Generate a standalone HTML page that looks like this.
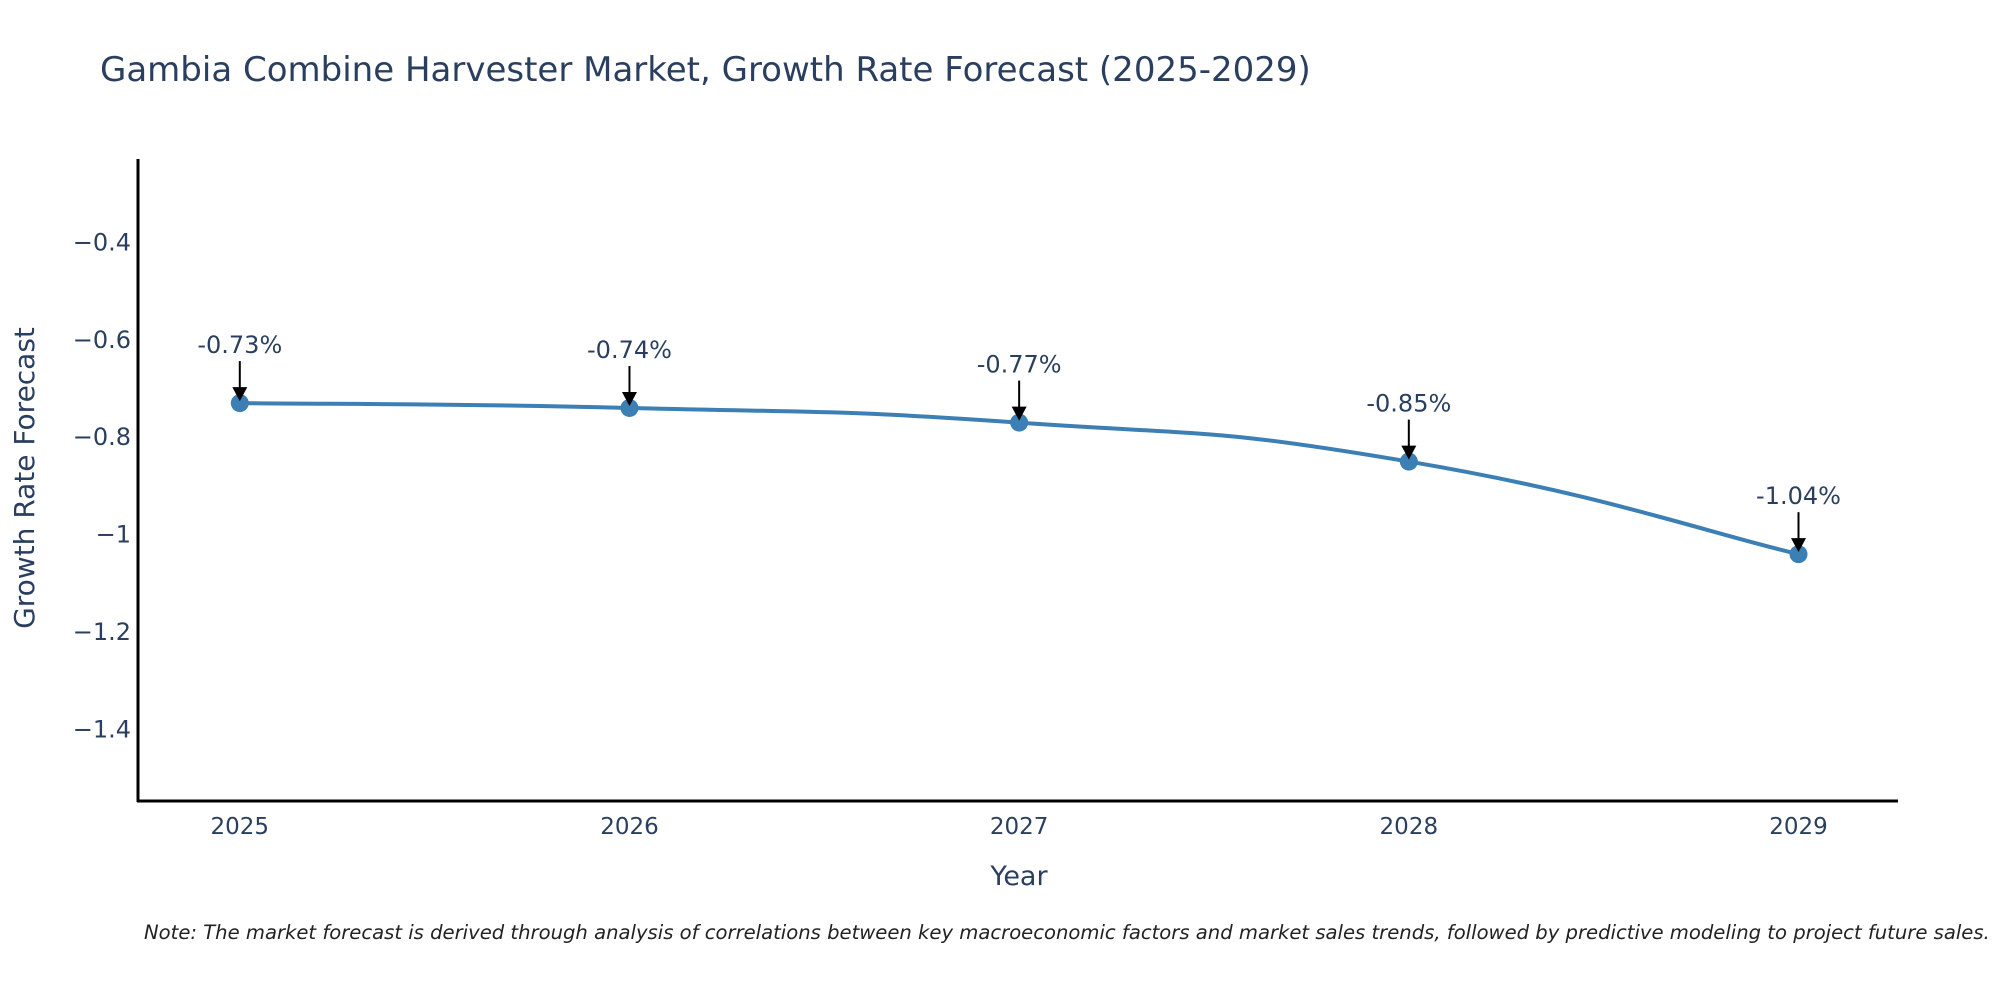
<!DOCTYPE html>
<html><head><meta charset="utf-8"><style>
body{margin:0;background:#fff}
svg text{font-family:"DejaVu Sans","Liberation Sans",sans-serif}
</style></head><body>
<svg id="chart" width="2000" height="1000" xmlns="http://www.w3.org/2000/svg">
<text x="100" y="81" font-size="34" fill="#2a3f5f">Gambia Combine Harvester Market, Growth Rate Forecast (2025-2029)</text>
<g id="yticks"></g>
<g id="xticks"></g>
<line x1="138" y1="159" x2="138" y2="802" stroke="#000" stroke-width="3"/>
<line x1="137" y1="801" x2="1898" y2="801" stroke="#000" stroke-width="3"/>
<text transform="translate(34,478) rotate(-90)" text-anchor="middle" font-size="28" fill="#2a3f5f">Growth Rate Forecast</text>
<text x="1019" y="885" text-anchor="middle" font-size="27" fill="#2a3f5f">Year</text>
<path id="line" fill="none" stroke="#3c7fb4" stroke-width="4"/>
<g id="marks"></g>
<text x="144" y="939" font-size="19.6" font-style="italic" fill="#222">Note: The market forecast is derived through analysis of correlations between key macroeconomic factors and market sales trends, followed by predictive modeling to project future sales.</text>
</svg>
<script>
const years = [2025, 2026, 2027, 2028, 2029];
const values = [-0.73, -0.74, -0.77, -0.85, -1.04];
const labels = ["-0.73%", "-0.74%", "-0.77%", "-0.85%", "-1.04%"];
const yTicks = [-0.4, -0.6, -0.8, -1, -1.2, -1.4];
const yTickLabels = ["\u22120.4", "\u22120.6", "\u22120.8", "\u22121", "\u22121.2", "\u22121.4"];

const NS = "http://www.w3.org/2000/svg";
function xs(v){ return 239.8 + (v - 2025) * (1798.5 - 239.8) / 4; }
function ys(v){ return 242.3 + (-0.4 - v) * 487.3; }
function mk(tag, attrs, parent){ const e = document.createElementNS(NS, tag); for (const k in attrs) e.setAttribute(k, attrs[k]); parent.appendChild(e); return e; }

const yg = document.getElementById('yticks');
yTicks.forEach((t, i) => {
  const el = mk('text', {x: 131, y: ys(t) + 8, 'text-anchor': 'end', 'font-size': 24, fill: '#2a3f5f'}, yg);
  el.textContent = yTickLabels[i];
  
  
});
const xg = document.getElementById('xticks');
years.forEach(y => {
  const el = mk('text', {x: xs(y), y: 834, 'text-anchor': 'middle', 'font-size': 23, fill: '#2a3f5f'}, xg);
  el.textContent = y;
  
  
});

const pts = years.map((y, i) => [xs(y), ys(values[i])]);
let d = 'M' + pts[0][0] + ',' + pts[0][1];
const tension = 0.25;
for (let i = 0; i < pts.length - 1; i++) {
  const p0 = pts[Math.max(0, i - 1)], p1 = pts[i], p2 = pts[i + 1], p3 = pts[Math.min(pts.length - 1, i + 2)];
  const c1 = [p1[0] + (p2[0] - p0[0]) * tension, p1[1] + (p2[1] - p0[1]) * tension];
  const c2 = [p2[0] - (p3[0] - p1[0]) * tension, p2[1] - (p3[1] - p1[1]) * tension];
  d += ' C' + c1 + ' ' + c2 + ' ' + p2;
}
document.getElementById('line').setAttribute('d', d);

const mg = document.getElementById('marks');
pts.forEach((p, i) => {
  const c = mk('circle', {cx: p[0], cy: p[1], r: 9, fill: '#3c7fb4'}, mg);
  
  
  const l = mk('line', {x1: p[0], y1: p[1] - 42, x2: p[0], y2: p[1] - 14, stroke: '#000', 'stroke-width': 2}, mg);
  
  
  const a = mk('polygon', {points: (p[0]-7.5)+','+(p[1]-16)+' '+(p[0]+7.5)+','+(p[1]-16)+' '+p[0]+','+(p[1]-2), fill: '#000'}, mg);
  
  
  const t = mk('text', {x: p[0], y: p[1] - 50, 'text-anchor': 'middle', 'font-size': 24, fill: '#2a3f5f'}, mg);
  t.textContent = labels[i];
  
  
});
</script>
</body></html>
